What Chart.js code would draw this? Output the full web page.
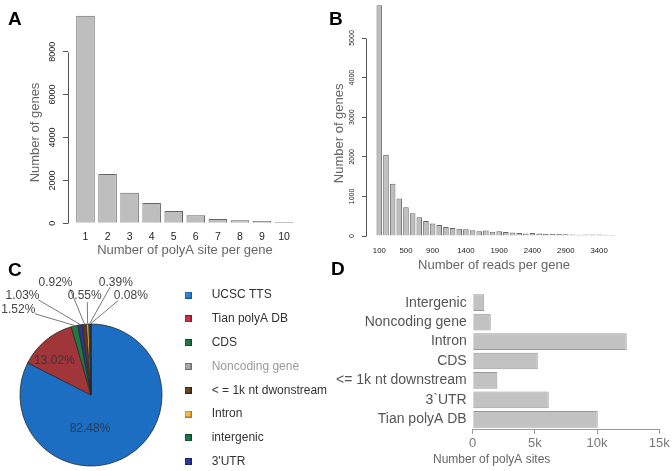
<!DOCTYPE html>
<html>
<head>
<meta charset="utf-8">
<script src="https://cdn.jsdelivr.net/npm/chart.js@4.4.1/dist/chart.umd.min.js"></script>
<style>
  html, body { margin: 0; padding: 0; background: #fff; overflow: hidden; }
  #page { position: relative; width: 672px; height: 471px; overflow: hidden; background: #fff; }
  canvas { position: absolute; }
  .tag { position: absolute; font: bold 19px Arial, "Liberation Sans", sans-serif; line-height: 19px; color: #000; }
</style>
</head>
<body>
<div id="page">
  <canvas id="chartA" width="330" height="262" style="left:0px;top:0px"></canvas>
  <canvas id="chartB" width="342" height="275" style="left:330px;top:0px"></canvas>
  <canvas id="chartD" width="348" height="221" style="left:324px;top:250px"></canvas>
  <canvas id="chartC" width="350" height="256" style="left:0px;top:258px"></canvas>
  <div class="tag" style="left:8px;top:9px">A</div>
  <div class="tag" style="left:329px;top:9px">B</div>
  <div class="tag" style="left:8px;top:260px">C</div>
  <div class="tag" style="left:331px;top:259px">D</div>
</div>
<script>
// A : polyA sites per gene
const aSites = ['1', '2', '3', '4', '5', '6', '7', '8', '9', '10'];
const aGenes = [9670, 2300, 1430, 950, 575, 373, 200, 140, 110, 62];
const aYTicks = ['0', '2000', '4000', '6000', '8000'];

// B : reads per gene
const bBins = ['100', '200', '300', '400', '500', '600', '700', '800', '900', '1000',
  '1100', '1200', '1300', '1400', '1500', '1600', '1700', '1800', '1900', '2000',
  '2100', '2200', '2300', '2400', '2500', '2600', '2700', '2800', '2900', '3000',
  '3100', '3200', '3300', '3400', '3500', '3600'];
const bGenes = [5830, 2050, 1320, 950, 730, 575, 475, 380, 315, 280,
  230, 205, 185, 170, 145, 120, 140, 110, 124, 102,
  92, 75, 66, 74, 64, 58, 50, 54, 44, 40,
  30, 38, 36, 36, 33, 24];
const bShown = ['100', '500', '900', '1400', '1900', '2400', '2900', '3400'];
const bYTicks = ['0', '1000', '2000', '3000', '4000', '5000'];

// C : share of polyA sites
const cLabels = ['UCSC TTS', 'Tian polyA DB', 'CDS', 'Noncoding gene',
  '< = 1k nt dwonstream', 'Intron', 'intergenic', "3'UTR"];
const cShares = [82.48, 13.02, 1.52, 1.03, 0.92, 0.55, 0.39, 0.08];

// D : polyA sites per region
const dRegions = ['Intergenic', 'Noncoding gene', 'Intron', 'CDS',
  '<= 1k nt downstream', '3`UTR', 'Tian polyA DB'];
const dSites = [930, 1450, 12380, 5230, 1980, 6110, 10050];
const dTickValues = [0, 5000, 10000, 15000];
const dTicks = ['0', '5k', '10k', '15k'];

// couleurs
const sliceColors = ['#1b6ec2', '#a0353a', '#1e7a40', '#2b3590', '#5b3a1e', '#f2b040', '#2d5a30', '#2b3590'];
const legendFill = ['#2f86d6', '#d03040', '#1a7a45', '#a8a8a8', '#6b4422', '#f8b848', '#1a7a45', '#2e3a9a'];
const legendEdge = ['#1a5a9a', '#8a1a25', '#0e4a2a', '#707070', '#3a2410', '#b07820', '#0e4a2a', '#1a2060'];
const legendText = ['#333', '#333', '#333', '#999', '#333', '#333', '#333', '#333'];

// position des étiquettes du camembert (décalage par rapport au centre)
const cLabelSpots = [
  { tx: -1, ty: 33.5 },
  { tx: -36.5, ty: -34.3 },
  { tx: -72.7, ty: -85.2, lx: -56, ly: -81.2 },
  { tx: -68.5, ty: -99.5, lx: -52.7, ly: -95.2 },
  { tx: -35.5, ty: -112.8, lx: -21, ly: -106.2 },
  { tx: -6.3, ty: -99.5, lx: -3.7, ly: -92.8 },
  { tx: 24.8, ty: -112.8, lx: 19, ly: -107.8 },
  { tx: 39.8, ty: -99.5, lx: 27.3, ly: -94.5 }
];

const FONT = 'Arial, "Liberation Sans", sans-serif';
Chart.defaults.font.family = FONT;

// largeur de la légende (pour placer le camembert au bon endroit)
const meas = document.createElement('canvas').getContext('2d');
meas.font = '12px ' + FONT;
const legendPad = 11.8;
const legendMark = 35.4;
const legendWidth = legendPad + legendMark + 6 + Math.max(...cLabels.map(t => meas.measureText(t).width)) + 10;
const legendLeft = 158.5;

// axe vertical façon R : trait seulement entre le premier et le dernier tick
const rAxisLine = {
  id: 'rAxisLine',
  afterDraw(chart) {
    const s = chart.scales.y;
    const top = s.getPixelForValue(s.ticks[s.ticks.length - 1].value);
    const bottom = s.getPixelForValue(s.ticks[0].value);
    const x = Math.round(s.right) + 0.5;
    const ctx = chart.ctx;
    ctx.save();
    ctx.strokeStyle = '#555';
    ctx.lineWidth = 1;
    ctx.beginPath();
    ctx.moveTo(x, Math.round(top) + 0.5);
    ctx.lineTo(x, Math.round(bottom) + 0.5);
    ctx.stroke();
    ctx.restore();
  }
};

// pourcentages + traits de rappel
const pieLabels = {
  id: 'pieLabels',
  afterDatasetsDraw(chart) {
    const ctx = chart.ctx;
    const meta = chart.getDatasetMeta(0);
    ctx.save();
    ctx.font = '12px ' + FONT;
    ctx.textAlign = 'center';
    ctx.textBaseline = 'middle';
    meta.data.forEach((arc, i) => {
      const p = arc.getProps(['x', 'y', 'startAngle', 'endAngle', 'outerRadius'], true);
      const spot = cLabelSpots[i];
      const text = cShares[i].toFixed(2) + '%';
      if (spot.lx !== undefined) {
        const mid = (p.startAngle + p.endAngle) / 2;
        const r = p.outerRadius + 0.5;
        ctx.strokeStyle = '#555';
        ctx.lineWidth = 0.8;
        ctx.beginPath();
        ctx.moveTo(p.x + spot.lx, p.y + spot.ly);
        ctx.lineTo(p.x + r * Math.cos(mid), p.y + r * Math.sin(mid));
        ctx.stroke();
        ctx.fillStyle = '#444';
      } else {
        ctx.fillStyle = 'rgba(45,50,65,0.85)';
      }
      ctx.fillText(text, p.x + spot.tx, p.y + spot.ty);
    });
    ctx.restore();
  }
};

function swatch(fill, edge) {
  const c = document.createElement('canvas');
  c.width = 7;
  c.height = 7;
  const g = c.getContext('2d');
  g.fillStyle = fill;
  g.fillRect(0, 0, 7, 7);
  g.strokeStyle = edge;
  g.lineWidth = 1;
  g.strokeRect(0.5, 0.5, 6, 6);
  return c;
}

// Panel A
new Chart(document.getElementById('chartA'), {
  type: 'bar',
  data: {
    datasets: [{
      data: aGenes.map((v, i) => ({ x: i + 1, y: v })),
      backgroundColor: '#bebebe',
      borderColor: '#666',
      borderWidth: 1,
      barPercentage: 0.84,
      categoryPercentage: 1,
      clip: false
    }]
  },
  options: {
    responsive: false,
    animation: false,
    layout: { padding: { left: 0, right: 28.1, top: 41.7, bottom: 3.7 } },
    plugins: { legend: { display: false }, tooltip: { enabled: false } },
    scales: {
      x: {
        type: 'linear',
        offset: false,
        min: 0.207,
        max: 10.81,
        afterBuildTicks: s => { s.ticks = aSites.map((_, i) => ({ value: i + 1 })); },
        ticks: {
          callback: v => aSites[v - 1],
          autoSkip: false,
          maxRotation: 0,
          font: { size: 10.5 },
          color: '#222',
          padding: 7.5
        },
        grid: { display: false, drawTicks: false, offset: false },
        border: { display: false },
        title: { display: true, text: 'Number of polyA site per gene', font: { size: 13 }, color: '#666', padding: { top: -8.2, bottom: 0 } }
      },
      y: {
        min: 0,
        max: 8466,
        afterBuildTicks: s => { s.ticks = aYTicks.map(t => ({ value: Number(t) })); },
        afterFit: s => { s.width = 68; },
        ticks: {
          callback: (v, i) => aYTicks[i],
          minRotation: 90,
          maxRotation: 90,
          crossAlign: 'center',
          font: { size: 9 },
          color: '#222',
          padding: 0
        },
        grid: { drawOnChartArea: false, tickLength: 5, color: '#555' },
        border: { display: false },
        title: { display: true, text: 'Number of genes', font: { size: 13 }, color: '#666', padding: { top: 27.2, bottom: 0 } }
      }
    }
  },
  plugins: [rAxisLine]
});

// Panel B
new Chart(document.getElementById('chartB'), {
  type: 'bar',
  data: {
    datasets: [{
      data: bGenes.map((v, i) => ({ x: i + 1, y: v })),
      backgroundColor: '#bebebe',
      borderColor: '#666',
      borderWidth: 1,
      barPercentage: 0.84,
      categoryPercentage: 1,
      clip: false
    }]
  },
  options: {
    responsive: false,
    animation: false,
    layout: { padding: { left: 0, right: 50, top: 30.6, bottom: 2.2 } },
    plugins: { legend: { display: false }, tooltip: { enabled: false } },
    scales: {
      x: {
        type: 'linear',
        offset: false,
        min: -1.0,
        max: 37.44,
        afterBuildTicks: s => { s.ticks = bShown.map(l => ({ value: bBins.indexOf(l) + 1 })); },
        ticks: {
          callback: v => bBins[v - 1],
          autoSkip: false,
          maxRotation: 0,
          font: { size: 7.8 },
          color: '#222',
          padding: 10.5
        },
        grid: { display: false, drawTicks: false, offset: false },
        border: { display: false },
        title: { display: true, text: 'Number of reads per gene', font: { size: 13 }, color: '#666', padding: { top: -9.2, bottom: 0 } }
      },
      y: {
        min: 0,
        max: 5187,
        afterBuildTicks: s => { s.ticks = bYTicks.map(t => ({ value: Number(t) })); },
        afterFit: s => { s.width = 36; },
        ticks: {
          callback: (v, i) => bYTicks[i],
          minRotation: 90,
          maxRotation: 90,
          crossAlign: 'center',
          font: { size: 7 },
          color: '#222',
          padding: 1.9
        },
        grid: { drawOnChartArea: false, tickLength: 4, color: '#555' },
        border: { display: false },
        title: { display: true, text: 'Number of genes', font: { size: 13 }, color: '#666', padding: { top: 1.5, bottom: 0 } }
      }
    }
  },
  plugins: [rAxisLine]
});

// Panel C
new Chart(document.getElementById('chartC'), {
  type: 'pie',
  data: {
    labels: cLabels,
    datasets: [{
      data: cShares,
      backgroundColor: sliceColors,
      borderColor: '#2a2a2a',
      borderWidth: 0.8
    }]
  },
  options: {
    responsive: false,
    animation: false,
    radius: 71,
    layout: { padding: { left: 23.5, right: 350 - legendLeft - legendWidth, top: 19.2, bottom: 1.2 } },
    plugins: {
      tooltip: { enabled: false },
      legend: {
        position: 'right',
        align: 'start',
        maxWidth: legendWidth + 5,
        labels: {
          usePointStyle: true,
          pointStyleWidth: legendMark,
          boxHeight: 6,
          padding: legendPad,
          font: { size: 12 },
          generateLabels: () => cLabels.map((t, i) => ({
            text: t,
            fillStyle: legendFill[i],
            strokeStyle: legendEdge[i],
            lineWidth: 1,
            fontColor: legendText[i],
            pointStyle: swatch(legendFill[i], legendEdge[i]),
            hidden: false,
            index: i
          }))
        }
      }
    }
  },
  plugins: [pieLabels]
});

// Panel D
new Chart(document.getElementById('chartD'), {
  type: 'bar',
  data: {
    labels: dRegions,
    datasets: [{
      data: dSites,
      backgroundColor: '#c2c2c2',
      borderColor: '#999',
      borderWidth: 1,
      barPercentage: 0.86,
      categoryPercentage: 1
    }]
  },
  options: {
    indexAxis: 'y',
    responsive: false,
    animation: false,
    layout: { padding: { left: 0, right: 12.7, top: 43, bottom: 3.8 } },
    plugins: {
      legend: { display: false },
      tooltip: { enabled: false },
      title: {
        display: true,
        text: 'Number of polyA sites',
        position: 'bottom',
        align: 'center',
        color: '#666',
        font: { size: 12, weight: 'normal' },
        padding: { top: 0.2, bottom: 0 }
      }
    },
    scales: {
      x: {
        min: 0,
        max: 15000,
        afterBuildTicks: s => { s.ticks = dTickValues.map(v => ({ value: v })); },
        ticks: {
          callback: (v, i) => dTicks[i],
          autoSkip: false,
          maxRotation: 0,
          font: { size: 13 },
          color: '#777',
          padding: 1.5
        },
        grid: { drawOnChartArea: false, tickLength: 5, color: '#999' },
        border: { display: true, color: '#999' }
      },
      y: {
        afterFit: s => { s.width = 148.7; },
        ticks: { autoSkip: false, font: { size: 14 }, color: '#555', padding: 6 },
        grid: { display: false, drawTicks: false },
        border: { display: false }
      }
    }
  }
});
</script>
</body>
</html>
